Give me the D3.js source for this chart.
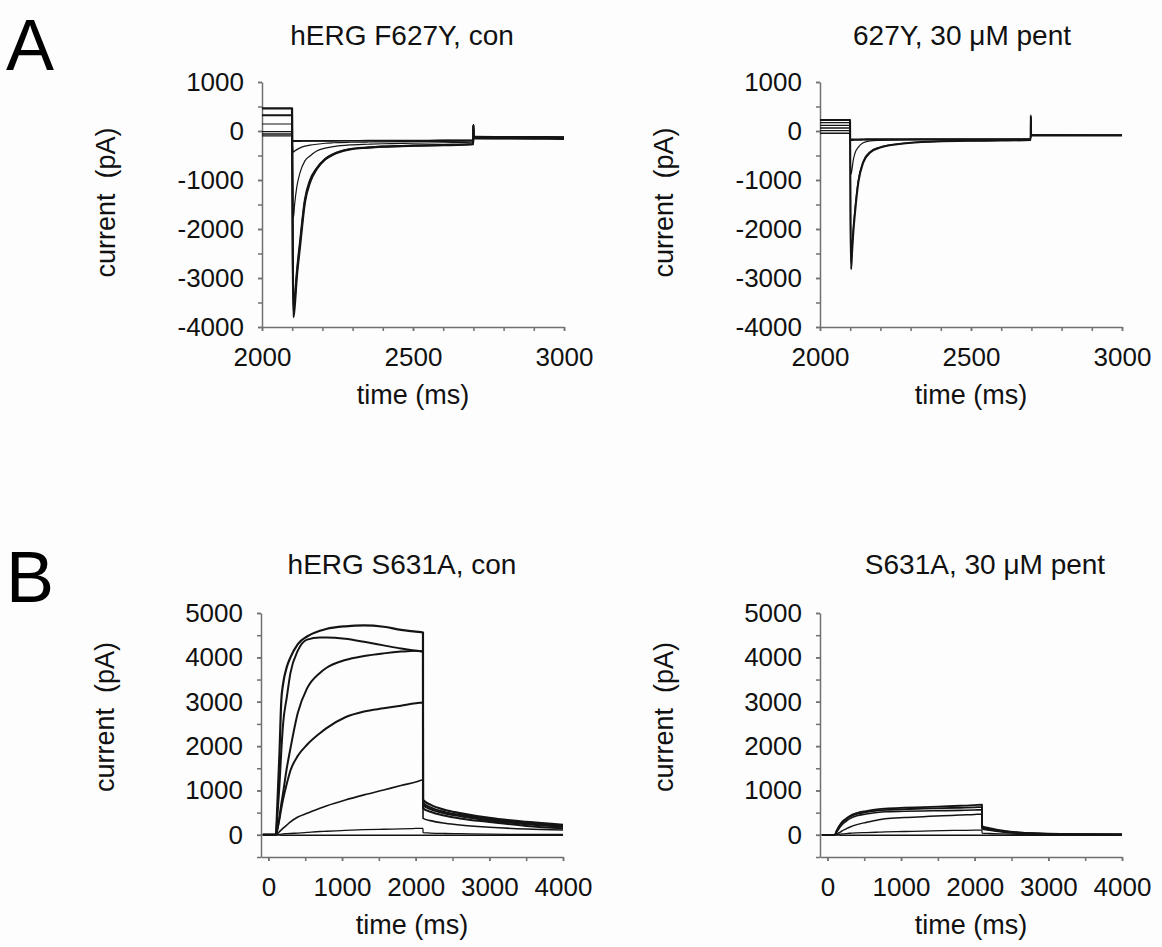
<!DOCTYPE html>
<html>
<head>
<meta charset="utf-8">
<script src="https://cdn.jsdelivr.net/npm/d3@7"></script>
<style>
  body { margin: 0; background: #fdfdfd; }
  svg { font-family: "Liberation Sans", Arial, sans-serif; }
  .axis path, .axis line { stroke: #707070; stroke-width: 1.5; }
  .axis text { fill: #111; font-size: 26px; }
</style>
</head>
<body>
<div id="chart"></div>
<script>
// ---- data ----
// A: hERG F627Y, tail currents (time in ms, current in pA)
const timeA1 = [2000, 2099.5, 2100, 2102, 2104, 2108, 2115, 2126, 2142, 2159, 2181, 2209, 2236, 2291, 2350, 2400, 2500, 2600, 2699.5, 2700, 2701, 2703, 2800, 2900, 3000];
const conA1 = [460, 460, -300, -2600, -3800, -3600, -3000, -2350, -1460, -1050, -780, -580, -480, -375, -340, -320, -300, -290, -270, 120, -140, -150, -150, -155, -160];
const conA2 = [320, 320, -300, -2500, -3650, -3450, -2900, -2250, -1400, -1000, -760, -570, -470, -370, -335, -315, -300, -285, -265, 130, -130, -145, -150, -150, -155];
const conA3 = [143, 143, -250, -1500, -1770, -1500, -1150, -850, -610, -510, -410, -350, -320, -285, -270, -260, -250, -240, -230, 110, -120, -130, -130, -135, -140];
const conA4 = [-12, -12, -150, -380, -430, -410, -380, -345, -310, -290, -270, -250, -240, -230, -225, -220, -215, -210, -205, 100, -110, -120, -125, -125, -130];
const conA5 = [-60, -60, -180, -210, -210, -210, -210, -210, -205, -205, -205, -205, -205, -200, -200, -200, -200, -195, -195, 90, -100, -115, -120, -120, -125];
const conA6 = [-100, -100, -190, -200, -200, -200, -200, -200, -200, -200, -200, -200, -198, -196, -195, -194, -192, -190, -188, 80, -100, -110, -115, -115, -120];

const timeA2 = [2000, 2099.5, 2100, 2101, 2103, 2106, 2110, 2116, 2127, 2143, 2166, 2199, 2276, 2386, 2500, 2600, 2697.5, 2698, 2699, 2701, 2800, 3000];
const pentA1 = [224, 224, -300, -1800, -2820, -2500, -2100, -1670, -1050, -645, -440, -340, -257, -216, -200, -195, -185, 320, -60, -90, -90, -90];
const pentA2 = [171, 171, -300, -1700, -2690, -2400, -2000, -1580, -1000, -620, -425, -330, -252, -212, -198, -192, -183, 300, -60, -88, -88, -90];
const pentA3 = [116, 116, -250, -700, -880, -780, -600, -450, -330, -240, -200, -190, -180, -180, -178, -176, -175, 280, -70, -88, -90, -90];
const pentA4 = [61, 61, -170, -190, -190, -190, -190, -185, -185, -180, -180, -180, -178, -176, -175, -175, -173, 270, -70, -88, -88, -90];
const pentA5 = [8, 8, -165, -175, -175, -175, -175, -175, -175, -172, -172, -170, -170, -168, -168, -167, -166, 250, -75, -86, -87, -88];
const pentA6 = [-47, -47, -160, -165, -165, -165, -165, -165, -165, -165, -163, -163, -162, -162, -160, -160, -160, 230, -80, -85, -86, -87];

// B: hERG S631A, activating steps
const timeB = [-75, 100, 125, 150, 176, 200, 250, 300, 400, 525, 700, 785, 1045, 1300, 1565, 1800, 2000, 2099, 2100, 2200, 2400, 2600, 3000, 3500, 4000];
const conB1 = [0, 0, 800, 1800, 3040, 3400, 3780, 4000, 4300, 4470, 4600, 4640, 4700, 4720, 4690, 4620, 4580, 4560, 785, 680, 560, 490, 380, 290, 225];
const conB2 = [0, 0, 500, 1100, 1900, 2500, 3100, 3650, 4150, 4400, 4450, 4450, 4420, 4350, 4270, 4200, 4150, 4130, 720, 620, 510, 450, 350, 260, 200];
const conB3 = [0, 0, 150, 400, 700, 950, 1500, 1950, 2750, 3300, 3650, 3760, 3940, 4030, 4090, 4130, 4150, 4130, 670, 580, 480, 420, 325, 240, 183];
const conB4 = [0, 0, 150, 350, 600, 800, 1150, 1450, 1780, 2030, 2290, 2400, 2650, 2780, 2851, 2910, 2964, 2980, 600, 520, 430, 370, 290, 200, 146];
const conB5 = [0, 0, 30, 70, 110, 150, 220, 290, 400, 484, 600, 650, 785, 900, 1010, 1110, 1190, 1235, 370, 320, 260, 220, 170, 130, 108];
const conB6 = [0, 0, 5, 10, 15, 20, 25, 30, 40, 55, 75, 80, 100, 115, 125, 135, 143, 146, 50, 40, 30, 25, 15, 10, 8];
const conB7 = [0, 0, -5, -8, -10, -10, -10, -10, -10, -10, -10, -10, -10, -10, -10, -10, -10, -10, -10, -10, -10, -10, -10, -10, -10];

const pentB1 = [0, 0, 90, 170, 240, 290, 360, 420, 490, 535, 580, 592, 612, 625, 640, 655, 670, 680, 200, 150, 90, 55, 25, 15, 10];
const pentB2 = [0, 0, 80, 150, 220, 270, 340, 400, 470, 510, 550, 560, 580, 590, 600, 610, 620, 625, 180, 135, 80, 50, 22, 12, 8];
const pentB3 = [0, 0, 60, 120, 180, 230, 300, 360, 430, 470, 510, 520, 530, 538, 545, 552, 560, 565, 160, 120, 70, 45, 20, 10, 6];
const pentB4 = [0, 0, 20, 40, 60, 90, 130, 170, 230, 280, 340, 360, 390, 410, 430, 445, 460, 465, 130, 100, 60, 38, 17, 9, 5];
const pentB5 = [0, 0, 5, 10, 15, 20, 25, 35, 45, 50, 60, 65, 75, 85, 95, 100, 105, 108, 40, 30, 20, 12, 6, 3, 2];
const pentB6 = [0, 0, -5, -8, -10, -10, -10, -10, -10, -10, -10, -10, -10, -10, -10, -10, -10, -10, -10, -10, -10, -10, -10, -10, -10];

const ticksA_x = [2000, 2500, 3000];
const ticksA_y = [1000, 0, -1000, -2000, -3000, -4000];
const ticksB_x = [0, 1000, 2000, 3000, 4000];
const ticksB_y = [0, 1000, 2000, 3000, 4000, 5000];

const titles = ["hERG F627Y, con", "627Y, 30 \u03bcM pent", "hERG S631A, con", "S631A, 30 \u03bcM pent"];

// ---- drawing ----
const width = 1162, height = 947;
const svg = d3.select('#chart').append('svg')
  .attr('width', width).attr('height', height);

const fmt = d => String(d);   // plain hyphen minus, as in the figure

const panels = [
  { left: 262, right: 564, top: 82, bottom: 327, xd: [2000, 3000], yd: [-4000, 1000],
    xt: ticksA_x, xm: d3.range(2000, 3001, 100), yt: ticksA_y, ym: d3.range(-4000, 1001, 500),
    title: titles[0], tx: 402, ty: 45, time: timeA1,
    traces: [[conA1, 2.2], [conA2, 2.0], [conA3, 1.2], [conA4, 1.2], [conA5, 1.4], [conA6, 1.4]] },
  { left: 820, right: 1122, top: 82, bottom: 327, xd: [2000, 3000], yd: [-4000, 1000],
    xt: ticksA_x, xm: d3.range(2000, 3001, 100), yt: ticksA_y, ym: d3.range(-4000, 1001, 500),
    title: titles[1], tx: 962, ty: 45, time: timeA2,
    traces: [[pentA1, 2.0], [pentA2, 1.4], [pentA3, 1.2], [pentA4, 1.4], [pentA5, 1.4], [pentA6, 1.4]] },
  { left: 261, right: 563, top: 613, bottom: 857, xd: [-100, 4000], yd: [-500, 5000],
    xt: ticksB_x, xm: d3.range(0, 4001, 500), yt: ticksB_y, ym: d3.range(-500, 5001, 500),
    title: titles[2], tx: 402, ty: 574, time: timeB,
    traces: [[conB1, 2.2], [conB2, 2.0], [conB3, 2.0], [conB4, 2.0], [conB5, 1.6], [conB6, 1.3], [conB7, 1.3]] },
  { left: 820, right: 1122, top: 613, bottom: 857, xd: [-100, 4000], yd: [-500, 5000],
    xt: ticksB_x, xm: d3.range(0, 4001, 500), yt: ticksB_y, ym: d3.range(-500, 5001, 500),
    title: titles[3], tx: 985, ty: 574, time: timeB,
    traces: [[pentB1, 1.8], [pentB2, 1.8], [pentB3, 1.6], [pentB4, 1.5], [pentB5, 1.3], [pentB6, 1.3]] }
];

panels.forEach(p => {
  const x = d3.scaleLinear().domain(p.xd).range([p.left, p.right]);
  const y = d3.scaleLinear().domain(p.yd).range([p.bottom, p.top]);
  const g = svg.append('g');

  // minor ticks (no labels)
  g.append('g').attr('class', 'axis')
    .attr('transform', `translate(0,${p.bottom})`)
    .call(d3.axisBottom(x).tickValues(p.xm).tickSize(4).tickFormat(''))
    .select('.domain').remove();
  g.append('g').attr('class', 'axis')
    .attr('transform', `translate(${p.left},0)`)
    .call(d3.axisLeft(y).tickValues(p.ym).tickSize(4).tickFormat(''))
    .select('.domain').remove();

  // labelled axes
  g.append('g').attr('class', 'axis')
    .attr('transform', `translate(0,${p.bottom})`)
    .call(d3.axisBottom(x).tickValues(p.xt).tickSize(4).tickSizeOuter(0).tickPadding(17).tickFormat(fmt));
  g.append('g').attr('class', 'axis')
    .attr('transform', `translate(${p.left},0)`)
    .call(d3.axisLeft(y).tickValues(p.yt).tickSize(4).tickSizeOuter(0).tickPadding(14).tickFormat(fmt));

  const line = d3.line()
    .x((d, i) => x(p.time[i]))
    .y(d => y(d))
    .curve(d3.curveMonotoneX);

  p.traces.forEach(([vals, w]) => {
    g.append('path')
      .attr('d', line(vals))
      .attr('fill', 'none')
      .attr('stroke', '#141414')
      .attr('stroke-width', w)
      .attr('stroke-linejoin', 'round');
  });

  g.append('text')
    .attr('x', p.tx).attr('y', p.ty)
    .attr('text-anchor', 'middle')
    .attr('font-size', 28).attr('fill', '#111')
    .text(p.title);

  g.append('text')
    .attr('x', (p.left + p.right) / 2).attr('y', p.bottom + 77)
    .attr('text-anchor', 'middle')
    .attr('font-size', 27).attr('fill', '#111')
    .text('time (ms)');

  const cy = p.top + (p.bottom - p.top) / 2 - (p.yd[0] === -500 ? 18 : 2);
  g.append('text')
    .attr('transform', `translate(${p.left - 147},${cy}) rotate(-90)`)
    .attr('text-anchor', 'middle')
    .attr('font-size', 27).attr('fill', '#111')
    .style('white-space', 'pre')
    .text('current  (pA)');
});

svg.append('text').attr('x', 6).attr('y', 70)
  .attr('font-size', 72).attr('fill', '#000').text('A');
svg.append('text').attr('x', 6).attr('y', 602)
  .attr('font-size', 72).attr('fill', '#000').text('B');
</script>
</body>
</html>
